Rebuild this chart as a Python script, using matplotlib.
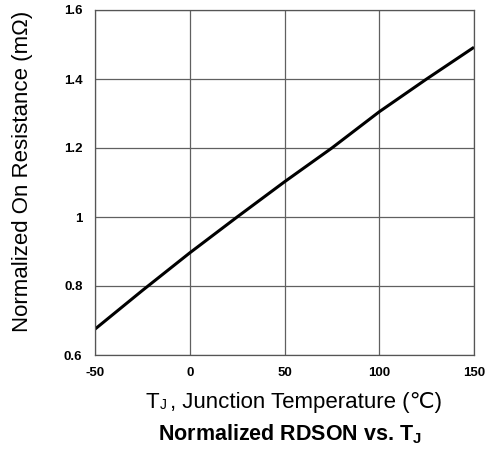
import numpy as np
import matplotlib
matplotlib.use("Agg")
import matplotlib.pyplot as plt

temp_c = [-50, -25, 0, 25, 50, 75, 100, 125, 150]
rdson_norm = [0.675, 0.787, 0.896, 1.0, 1.102, 1.2, 1.305, 1.40, 1.492]
x_ticks = [-50, 0, 50, 100, 150]
y_ticks = [0.6, 0.8, 1.0, 1.2, 1.4, 1.6]
y_tick_labels = ["0.6", "0.8", "1", "1.2", "1.4", "1.6"]

plt.rcParams["font.family"] = ["Liberation Sans", "DejaVu Sans"]
plt.rcParams["axes.unicode_minus"] = False
plt.rcParams["mathtext.fontset"] = "custom"
plt.rcParams["mathtext.rm"] = "Liberation Sans"
plt.rcParams["mathtext.bf"] = "Liberation Sans:bold"

W, H = 489, 458
fig = plt.figure(figsize=(W / 100, H / 100), dpi=100)
ax = fig.add_axes([95 / W, 1 - 355 / H, 379 / W, 345 / H])
ax.plot(temp_c, rdson_norm, color="black", lw=2.2, solid_capstyle="butt")
ax.set_xlim(-50, 150)
ax.set_ylim(0.6, 1.6)
ax.set_xticks(x_ticks)
ax.set_yticks(y_ticks)
ax.set_yticklabels(y_tick_labels)
ax.grid(True, color="#606060", lw=0.9)
ax.tick_params(length=0, labelsize=9.5, pad=9)
for lab in ax.get_xticklabels() + ax.get_yticklabels():
    lab.set_fontweight("bold")
for s in ax.spines.values():
    s.set_color("#555555")
    s.set_linewidth(0.9)

# y label
fig.text(23 / W, 1 - 171 / H, "Normalized On Resistance (m\u03a9)", fontsize=16,
         rotation=90, ha="center", va="center")

# x label, split so the degree sign can fall back to DejaVu
fig.text(145 / W, 1 - 408 / H, "T", fontsize=16, ha="left", va="baseline")
fig.text(160 / W, 1 - 409 / H, "J", fontsize=10, ha="left", va="baseline")
fig.text(170 / W, 1 - 408 / H, ", Junction Temperature (\u2103)", fontsize=16,
         ha="left", va="baseline")

# caption
fig.text(158 / W, 1 - 440 / H, "Normalized RDSON vs. T$_\\mathbf{J}$", fontsize=15.5,
         fontweight="bold", ha="left", va="baseline")

fig.savefig("out.png", dpi=100)
